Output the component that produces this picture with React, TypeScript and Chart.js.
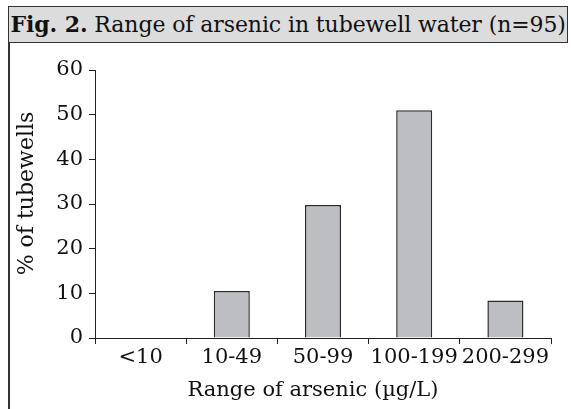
import React, { useEffect, useRef } from "react";
import { Chart, registerables } from "chart.js";

Chart.register(...registerables);

const categories: string[] = ["<10", "10-49", "50-99", "100-199", "200-299"];
const percentTubewells: number[] = [0, 10.5, 29.8, 51, 8.4];
const yTicks: number[] = [0, 10, 20, 30, 40, 50, 60];

const FONT = "'DejaVu Serif', serif";
const INK = "#222222";

export default function App() {
  const canvasRef = useRef<HTMLCanvasElement | null>(null);

  useEffect(() => {
    const canvas = canvasRef.current;
    if (!canvas) return;
    const chart = new Chart(canvas, {
      type: "bar",
      data: {
        labels: categories,
        datasets: [
          {
            data: percentTubewells,
            backgroundColor: "#bdbec2",
            borderColor: "#2a2a2a",
            borderWidth: 1.5,
            barPercentage: 0.395,
            categoryPercentage: 1,
          },
        ],
      },
      options: {
        responsive: false,
        animation: false,
        maintainAspectRatio: false,
        layout: { padding: { top: 70, right: 20, left: 0, bottom: 0 } },
        plugins: {
          legend: { display: false },
          tooltip: { enabled: false },
          title: { display: false },
        },
        scales: {
          x: {
            offset: true,
            grid: {
              offset: true,
              drawOnChartArea: false,
              drawTicks: true,
              tickLength: 6,
              color: INK,
              lineWidth: 1,
            },
            border: { display: true, color: INK, width: 1 },
            ticks: {
              color: "#111",
              font: { family: FONT, size: 21 },
              padding: 1,
              maxRotation: 0,
              autoSkip: false,
            },
            title: {
              display: true,
              text: "Range of arsenic (µg/L)\u00a0\u00a0\u00a0",
              color: "#111",
              font: { family: FONT, size: 21 },
              padding: { top: 0, bottom: 6 },
            },
            afterFit: (scale: any) => {
              scale.height = 71;
            },
          },
          y: {
            min: 0,
            max: 60,
            afterBuildTicks: (scale: any) => {
              scale.ticks = yTicks.map((v) => ({ value: v }));
            },
            grid: {
              drawOnChartArea: false,
              drawTicks: true,
              tickLength: 6,
              color: INK,
              lineWidth: 1,
            },
            border: { display: true, color: INK, width: 1 },
            ticks: {
              color: "#111",
              font: { family: FONT, size: 21 },
              padding: 6,
            },
            title: {
              display: true,
              text: "\u00a0\u00a0\u00a0% of tubewells",
              color: "#111",
              font: { family: FONT, size: 22 },
              padding: { top: 14, bottom: 0 },
            },
            afterFit: (scale: any) => {
              scale.width = 95;
            },
          },
        },
      },
    });
    return () => chart.destroy();
  }, []);

  return (
    <div
      style={{
        position: "absolute",
        left: 0,
        top: 0,
        width: 571,
        height: 409,
        background: "#ffffff",
        overflow: "hidden",
      }}
    >
      <canvas
        ref={canvasRef}
        width={571}
        height={409}
        style={{ position: "absolute", left: 0, top: 0, width: 571, height: 409 }}
      />
      <div
        style={{
          position: "absolute",
          left: 8,
          top: 42,
          width: 2,
          height: 380,
          background: "#333",
        }}
      />
      <div
        style={{
          position: "absolute",
          left: 8,
          top: 6,
          width: 560,
          height: 37,
          boxSizing: "border-box",
          border: "1.5px solid #333",
          background: "#dcdcdc",
          fontFamily: FONT,
          fontSize: 22,
          letterSpacing: "-0.1px",
          lineHeight: "34px",
          color: "#111",
          paddingLeft: 1.5,
          whiteSpace: "nowrap",
        }}
      >
        <span style={{ fontWeight: "bold" }}>Fig. 2.</span> Range of arsenic in tubewell water (n=95)
      </div>
    </div>
  );
}
